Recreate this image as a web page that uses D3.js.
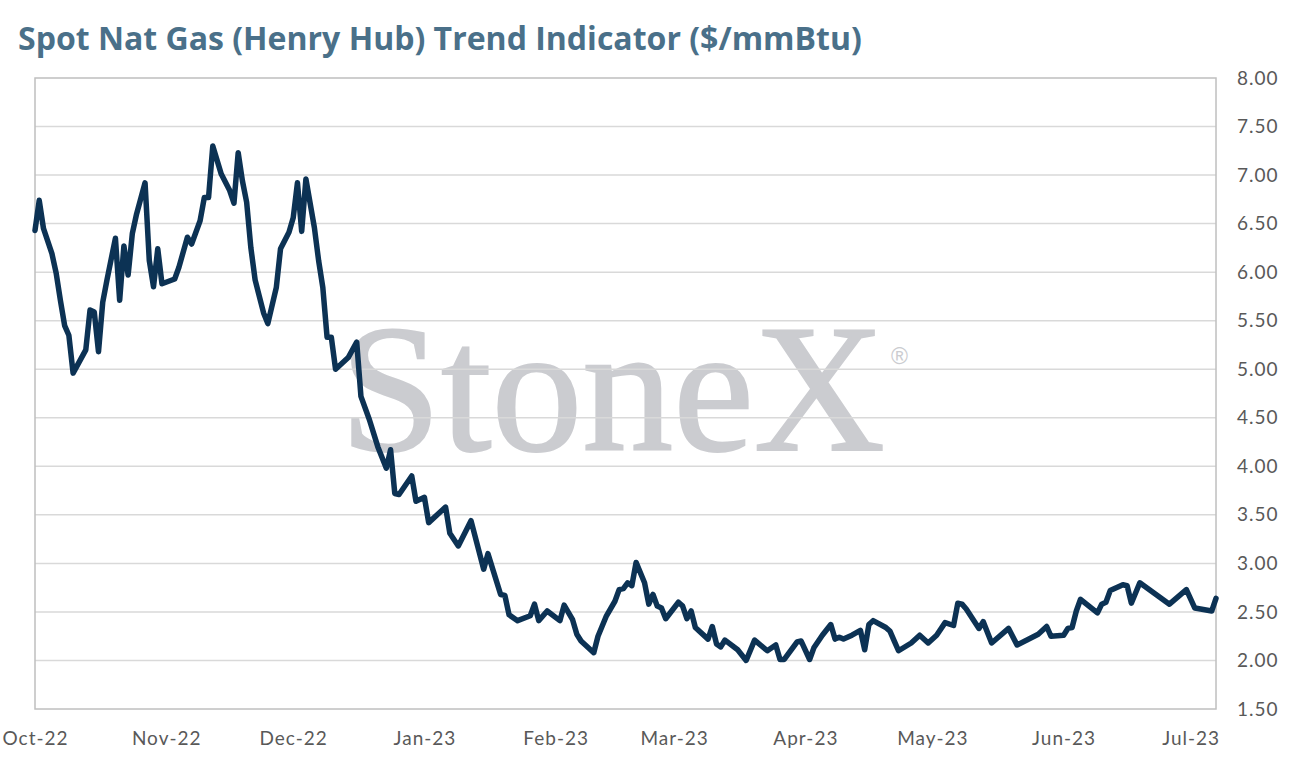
<!DOCTYPE html>
<html>
<head>
<meta charset="utf-8">
<script src="https://cdn.jsdelivr.net/npm/d3@7"></script>
<style>
  body { margin: 0; background: #ffffff; }
  svg { display: block; }
</style>
</head>
<body>
<div id="chart"></div>
<script>

// chart size and plot box
const width = 1294;
const height = 771;
const margin = {left: 35, right: 78, top: 78, bottom: 62};

// spot price series
const spotDates = [
  "2022-10-01","2022-10-02","2022-10-03","2022-10-05","2022-10-06","2022-10-07","2022-10-08","2022-10-09",
  "2022-10-10","2022-10-13","2022-10-14","2022-10-15","2022-10-16","2022-10-17","2022-10-18","2022-10-20",
  "2022-10-21","2022-10-22","2022-10-23","2022-10-24","2022-10-25","2022-10-27","2022-10-28","2022-10-29",
  "2022-10-30","2022-10-31","2022-11-03","2022-11-04","2022-11-06","2022-11-07","2022-11-09","2022-11-10",
  "2022-11-11","2022-11-12","2022-11-14","2022-11-16","2022-11-17","2022-11-18","2022-11-19","2022-11-20",
  "2022-11-21","2022-11-22","2022-11-24","2022-11-25","2022-11-27","2022-11-28","2022-11-30","2022-12-01",
  "2022-12-02","2022-12-03","2022-12-04","2022-12-06","2022-12-07","2022-12-08","2022-12-09","2022-12-10",
  "2022-12-11","2022-12-14","2022-12-16","2022-12-17","2022-12-19","2022-12-21","2022-12-23","2022-12-24",
  "2022-12-25","2022-12-26","2022-12-29","2022-12-30","2023-01-01","2023-01-02","2023-01-06","2023-01-07",
  "2023-01-09","2023-01-12","2023-01-15","2023-01-16","2023-01-19","2023-01-20","2023-01-21","2023-01-23",
  "2023-01-26","2023-01-27","2023-01-28","2023-01-30","2023-02-02","2023-02-03","2023-02-05","2023-02-06",
  "2023-02-07","2023-02-10","2023-02-11","2023-02-13","2023-02-15","2023-02-16","2023-02-17","2023-02-18",
  "2023-02-19","2023-02-20","2023-02-22","2023-02-23","2023-02-24","2023-02-25","2023-02-26","2023-02-27",
  "2023-03-02","2023-03-03","2023-03-04","2023-03-05","2023-03-06","2023-03-09","2023-03-10","2023-03-11",
  "2023-03-12","2023-03-13","2023-03-16","2023-03-18","2023-03-20","2023-03-23","2023-03-25","2023-03-26",
  "2023-03-27","2023-03-30","2023-03-31","2023-04-02","2023-04-03","2023-04-05","2023-04-07","2023-04-08",
  "2023-04-09","2023-04-10","2023-04-12","2023-04-14","2023-04-15","2023-04-16","2023-04-17","2023-04-20",
  "2023-04-21","2023-04-22","2023-04-23","2023-04-26","2023-04-28","2023-04-30","2023-05-02","2023-05-04",
  "2023-05-06","2023-05-07","2023-05-08","2023-05-09","2023-05-12","2023-05-13","2023-05-15","2023-05-19",
  "2023-05-21","2023-05-26","2023-05-28","2023-05-29","2023-06-01","2023-06-02","2023-06-03","2023-06-04",
  "2023-06-05","2023-06-09","2023-06-10","2023-06-11","2023-06-12","2023-06-15","2023-06-16","2023-06-17",
  "2023-06-19","2023-06-26","2023-06-30","2023-07-02","2023-07-06","2023-07-07"
];
const spotPrices = [
  6.43, 6.74, 6.45, 6.19, 5.99, 5.71, 5.45, 5.35,
  4.96, 5.20, 5.61, 5.59, 5.18, 5.69, 5.92, 6.35,
  5.71, 6.27, 5.97, 6.40, 6.60, 6.92, 6.12, 5.85,
  6.24, 5.88, 5.93, 6.05, 6.36, 6.29, 6.53, 6.77,
  6.77, 7.30, 7.01, 6.84, 6.71, 7.23, 6.94, 6.72,
  6.25, 5.92, 5.58, 5.47, 5.84, 6.24, 6.41, 6.56,
  6.92, 6.42, 6.96, 6.46, 6.12, 5.84, 5.33, 5.33,
  5.00, 5.12, 5.28, 4.72, 4.48, 4.20, 3.98, 4.17,
  3.72, 3.71, 3.90, 3.64, 3.68, 3.42, 3.58, 3.31,
  3.18, 3.44, 2.94, 3.10, 2.68, 2.67, 2.47, 2.41,
  2.46, 2.58, 2.41, 2.51, 2.41, 2.57, 2.42, 2.27,
  2.20, 2.08, 2.25, 2.46, 2.61, 2.73, 2.74, 2.80,
  2.77, 3.01, 2.80, 2.58, 2.68, 2.56, 2.54, 2.43,
  2.60, 2.56, 2.43, 2.51, 2.34, 2.22, 2.35, 2.17,
  2.14, 2.21, 2.11, 2.00, 2.21, 2.10, 2.16, 2.01,
  2.01, 2.19, 2.20, 2.01, 2.13, 2.26, 2.37, 2.22,
  2.24, 2.22, 2.26, 2.31, 2.11, 2.37, 2.41, 2.34,
  2.30, 2.20, 2.10, 2.18, 2.26, 2.18, 2.26, 2.39,
  2.36, 2.59, 2.58, 2.53, 2.33, 2.40, 2.18, 2.33,
  2.16, 2.27, 2.35, 2.25, 2.26, 2.33, 2.34, 2.51,
  2.63, 2.49, 2.58, 2.60, 2.72, 2.78, 2.77, 2.59,
  2.80, 2.58, 2.73, 2.54, 2.51, 2.64
];

// axis ticks
const monthTicks = ["2022-10-01","2022-11-01","2022-12-01","2023-01-01","2023-02-01",
                    "2023-03-01","2023-04-01","2023-05-01","2023-06-01","2023-07-01"];
const priceTicks = [1.5, 2, 2.5, 3, 3.5, 4, 4.5, 5, 5.5, 6, 6.5, 7, 7.5, 8];
const xDomain = ["2022-10-01", "2023-07-07"];

const titleText = "Spot Nat Gas (Henry Hub) Trend Indicator ($/mmBtu)";
const watermarkText = "StoneX";

const parseDate = d3.timeParse("%Y-%m-%d");
const data = spotDates.map((d, i) => ({date: parseDate(d), price: spotPrices[i]}));

const svg = d3.select("#chart")
  .append("svg")
  .attr("width", width)
  .attr("height", height);

const plotRight = width - margin.right;
const plotBottom = height - margin.bottom;

const xScale = d3.scaleTime()
  .domain(xDomain.map(parseDate))
  .range([margin.left, plotRight]);

const yScale = d3.scaleLinear()
  .domain([1.5, 8])
  .range([plotBottom, margin.top]);

// title, sized to the width it has in the picture
const title = svg.append("text")
  .attr("x", 18)
  .attr("y", 50)
  .attr("font-family", "'Open Sans', Lato, sans-serif")
  .attr("font-weight", 700)
  .attr("font-size", 28)
  .attr("fill", "#4a7089")
  .text(titleText);
const tw = title.node().getComputedTextLength();
title.attr("font-size", 28 * 844 / tw);

// watermark sits behind the grid
const wm = svg.append("text")
  .attr("x", 340)
  .attr("y", 450)
  .attr("font-family", "'Liberation Serif', 'DejaVu Serif', serif")
  .attr("font-size", 180)
  .attr("fill", "#cbccd0")
  .attr("stroke", "#cbccd0")
  .attr("stroke-width", 2)
  .text(watermarkText);
const ww = wm.node().getComputedTextLength();
wm.attr("font-size", 180 * 545 / ww);

svg.append("text")
  .attr("x", 891)
  .attr("y", 364)
  .attr("font-family", "'Liberation Sans', Arial, sans-serif")
  .attr("font-size", 23)
  .attr("fill", "#cbccd0")
  .text("®");

// horizontal gridlines
svg.append("g")
  .selectAll("line")
  .data(priceTicks.slice(1, -1))
  .enter()
  .append("line")
    .attr("x1", margin.left)
    .attr("x2", plotRight)
    .attr("y1", d => yScale(d))
    .attr("y2", d => yScale(d))
    .attr("stroke", "#d9d9d9")
    .attr("stroke-width", 1.5);

// plot border
svg.append("rect")
  .attr("x", margin.left)
  .attr("y", margin.top)
  .attr("width", plotRight - margin.left)
  .attr("height", plotBottom - margin.top)
  .attr("fill", "none")
  .attr("stroke", "#bfbfbf")
  .attr("stroke-width", 1.5);

// month labels
const xAxis = svg.append("g")
  .attr("transform", `translate(0,${plotBottom})`)
  .call(d3.axisBottom(xScale)
          .tickValues(monthTicks.map(parseDate))
          .tickFormat(d3.timeFormat("%b-%y"))
          .tickSize(0)
          .tickPadding(23));

// price labels on the right
const yAxis = svg.append("g")
  .attr("transform", `translate(${plotRight},0)`)
  .call(d3.axisRight(yScale)
          .tickValues(priceTicks)
          .tickFormat(d3.format(".2f"))
          .tickSize(0)
          .tickPadding(21));

[xAxis, yAxis].forEach(ax => {
  ax.select(".domain").remove();
  ax.selectAll("text")
    .attr("font-family", "Lato, 'Noto Sans', sans-serif")
    .attr("font-size", 19)
    .attr("letter-spacing", 1)
    .attr("fill", "#595959");
});

// the price line
const line = d3.line()
  .x(d => xScale(d.date))
  .y(d => yScale(d.price));

svg.append("path")
  .datum(data)
  .attr("d", line)
  .attr("fill", "none")
  .attr("stroke", "#0c3254")
  .attr("stroke-width", 5.5)
  .attr("stroke-linejoin", "round")
  .attr("stroke-linecap", "round");

</script>
</body>
</html>
